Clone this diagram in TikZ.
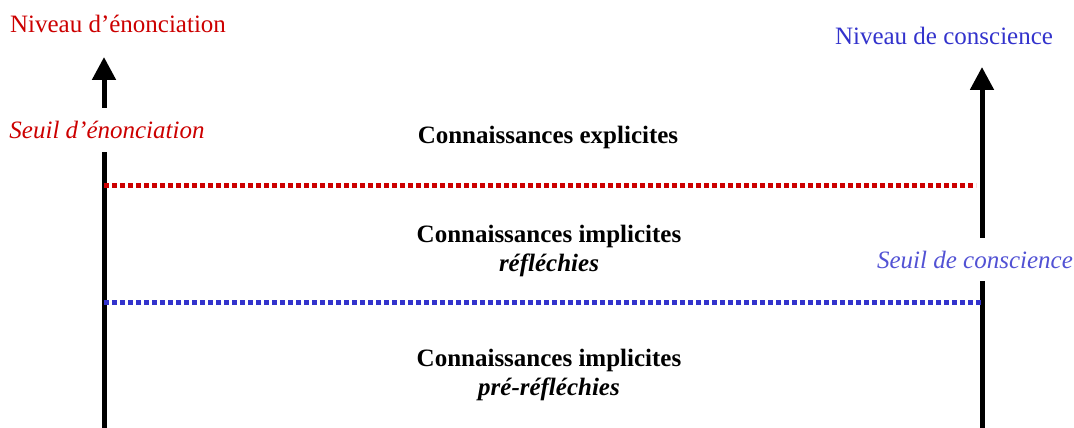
\documentclass[tikz,border=0pt]{standalone}
\usepackage{fontspec}
\setmainfont{Liberation Serif}
\usetikzlibrary{arrows.meta}
\definecolor{rouge}{RGB}{204,0,0}
\definecolor{bleu}{RGB}{51,51,204}
\newcommand\tailletexte{\fontsize{25}{29}\selectfont}

\begin{document}
\begin{tikzpicture}[x=1pt, y=-1pt,
every node/.style={%anchor=base,
    inner sep=1pt, font=\tailletexte
    },
seuillabel/.style={inner sep=0pt, minimum height=44pt, font=\tailletexte\itshape},
savoir/.style={align=center, font=\tailletexte\bfseries},
axe/.style={line width=5pt},
pointe/.style={line width=5pt, -{Triangle[width=23pt,length=23pt]}},
seuil/.style={line width=5pt, dash pattern=on 5pt off 3pt}
]
\useasboundingbox (0,0) rectangle (1074,428);

\node[text=rouge] (en) at (118,24) {Niveau d’énonciation};
\node[text=bleu] (co) at (944,36) {Niveau de conscience};

\node[seuillabel, text=rouge] (se) at (107,130) {Seuil d’énonciation};
\node[seuillabel, text=bleu!85!white, minimum height=43pt] (sc) at (975,259.5) {Seuil de conscience};

\node[savoir] (ex) at (548,137) {Connaissances explicites};
\node[savoir] (ir) at (549,251) {Connaissances implicites\\ \textit{réfléchies}};
\node[savoir] (ip) at (549,375) {Connaissances implicites\\ \textit{pré-réfléchies}};

\coordinate (ba) at (104,428);
\coordinate (ta) at (104,57);
\coordinate (bb) at (982,428);
\coordinate (tb) at (982,67);

% axes
\draw[axe] (ba) -- (ba |- se.south);
\draw[pointe] (ta |- se.north) -- (ta);
\draw[axe] (bb) -- (bb |- sc.south);
\draw[pointe] (tb |- sc.north) -- (tb);

% seuils
\coordinate (r1) at (104,185);
\coordinate (r2) at (976,185);
\coordinate (b1) at (104,302);
\coordinate (b2) at (982,302);
\foreach \i/\j/\c in {r1/r2/rouge, b1/b2/bleu}
    \draw[seuil, \c] (\i) -- (\j);

\end{tikzpicture}
\end{document}
